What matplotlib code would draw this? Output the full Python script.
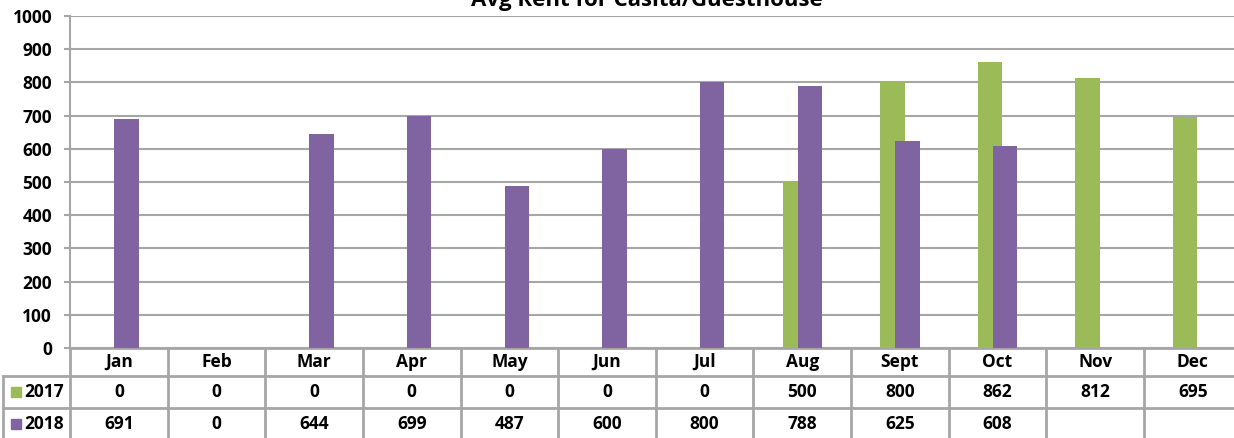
import matplotlib
matplotlib.use("Agg")
import matplotlib.pyplot as plt
import numpy as np
from matplotlib.transforms import blended_transform_factory

plt.rcParams['font.family'] = ['Open Sans', 'DejaVu Sans']
plt.rcParams['font.weight'] = 'bold'

title = "Avg Rent for Casita/Guesthouse"
months = ["Jan", "Feb", "Mar", "Apr", "May", "Jun", "Jul", "Aug", "Sept", "Oct", "Nov", "Dec"]
series_names = ["2017", "2018"]
rent_2017 = [0, 0, 0, 0, 0, 0, 0, 500, 800, 862, 812, 695]
rent_2018 = [691, 0, 644, 699, 487, 600, 800, 788, 625, 608, None, None]
yticks = [0, 100, 200, 300, 400, 500, 600, 700, 800, 900, 1000]

GREEN = "#9BBB59"
PURPLE = "#8064A2"
GRID = "#A6A6A6"
FS = 12.5

W, H = 1234, 438
fig = plt.figure(figsize=(W / 100, H / 100), dpi=100)

x0, x1 = 70, 1241.6
ytop, ybot = 16, 348
ax = fig.add_axes([x0 / W, (H - ybot) / H, (x1 - x0) / W, (ybot - ytop) / H])

x = np.arange(len(months))
bw = 0.25
off = 0.077
v17 = [np.nan if v is None else v for v in rent_2017]
v18 = [np.nan if v is None else v for v in rent_2018]
ax.bar(x - off, v17, width=bw, color=GREEN, zorder=3, linewidth=0)
ax.bar(x + off, v18, width=bw, color=PURPLE, zorder=4, linewidth=0)

ax.set_xlim(-0.5, len(months) - 0.5)
ax.set_ylim(0, 1000)
ax.set_yticks(yticks)
ax.set_yticklabels([str(t) for t in yticks], fontsize=FS, fontweight='bold')
ax.set_xticks([])
ax.yaxis.grid(True, color=GRID, linewidth=1.5, zorder=0)
ax.set_axisbelow(True)
for s in ["top", "right", "bottom"]:
    ax.spines[s].set_visible(False)
ax.spines["left"].set_color(GRID)
ax.spines["left"].set_linewidth(1.5)
ax.tick_params(axis='y', length=4.3, width=1.5, color=GRID, pad=8.6)

fig.text(647 / W, (H - 6) / H, title, ha='center', va='baseline', fontsize=16, fontweight='bold')

tr = blended_transform_factory(ax.transData, fig.transFigure)
def fy(py):
    return (H - py) / H

unit = (x1 - x0) / len(months)
label_left = -0.5 - (x0 - 3) / unit

rows_y = [348, 376, 408, 440]
line_kw = dict(color=GRID, linewidth=2, transform=tr, clip_on=False)
ax.plot([-0.5, 11.5], [fy(rows_y[0])] * 2, **line_kw)
for yy in rows_y[1:3]:
    ax.plot([label_left, 11.5], [fy(yy)] * 2, **line_kw)
for i in range(len(months) + 1):
    ax.plot([i - 0.5, i - 0.5], [fy(348), fy(440)], **line_kw)
ax.plot([label_left, label_left], [fy(376), fy(440)], **line_kw)

for i, m in enumerate(months):
    ax.text(i, fy((rows_y[0] + rows_y[1]) / 2), m, transform=tr, ha='center', va='center',
            fontsize=FS, fontweight='bold')
for r, (vals, name, col) in enumerate([(rent_2017, series_names[0], GREEN), (rent_2018, series_names[1], PURPLE)]):
    yc = fy((rows_y[r + 1] + rows_y[r + 2]) / 2)
    for i, v in enumerate(vals):
        if v is not None:
            ax.text(i, yc, str(v), transform=tr, ha='center', va='center', fontsize=FS, fontweight='bold')
    fig.text(24 / W, yc, name, ha='left', va='center', fontsize=FS, fontweight='bold')
    fig.patches.append(plt.Rectangle((11 / W, yc - 5 / H), 10 / W, 10 / H, color=col,
                                     transform=fig.transFigure, figure=fig))

fig.savefig("out.png", dpi=100)
